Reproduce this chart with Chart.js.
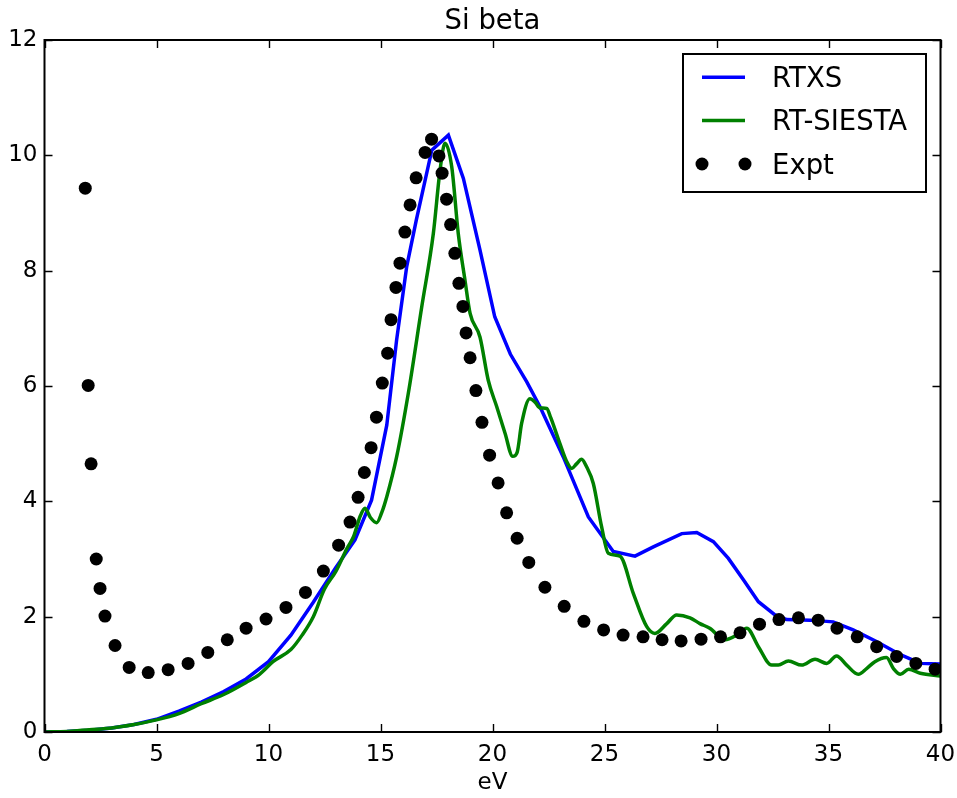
<!DOCTYPE html>
<html>
<head>
<meta charset="utf-8">
<script src="https://cdn.jsdelivr.net/npm/chart.js@4/dist/chart.umd.min.js"></script>
<style>
  html, body { margin: 0; padding: 0; background: #fff; }
  canvas { display: block; }
</style>
</head>
<body>
<canvas id="c" width="957" height="798"></canvas>
<script>
// ---- data ----
const chartTitle = 'Si beta';
const xLabel = 'eV';
const xTicks = [0, 5, 10, 15, 20, 25, 30, 35, 40];
const yTicks = [0, 2, 4, 6, 8, 10, 12];

const rtxsEV = [0, 1, 2, 3, 4, 5, 6, 7, 8, 9, 10, 11, 12, 13, 13.86, 14.6, 15.28, 15.72, 16.17, 16.6, 17.29, 18.03, 18.7, 19.44, 20.1, 20.8, 21.53, 22.12, 23.16, 24.28, 25.39, 26.36, 27.18, 28.45, 29.12, 29.86, 30.53, 31.2, 31.87, 32.61, 33.13, 34.17, 35.21, 36.1, 37.14, 38.21, 39.1, 40];
const rtxsBeta = [0, 0.01, 0.03, 0.07, 0.13, 0.22, 0.36, 0.52, 0.7, 0.92, 1.22, 1.68, 2.25, 2.85, 3.33, 4.02, 5.32, 6.8, 8.07, 8.88, 10.09, 10.35, 9.6, 8.36, 7.2, 6.55, 6.07, 5.64, 4.77, 3.73, 3.13, 3.05, 3.21, 3.44, 3.46, 3.3, 3.01, 2.64, 2.26, 2.03, 1.95, 1.94, 1.91, 1.77, 1.57, 1.34, 1.19, 1.18];

const siestaEV = [0, 1, 2, 3, 4, 5, 6, 7, 8, 9, 9.6, 10.2, 11.0, 11.5, 12.0, 12.5, 13.0, 13.5, 13.8, 14.1, 14.31, 14.55, 14.83, 15.05, 15.28, 15.72, 16.24, 16.84, 17.36, 17.66, 17.88, 18.18, 18.47, 18.77, 19.0, 19.44, 19.81, 20.19, 20.56, 20.9, 21.1, 21.3, 21.67, 21.9, 22.12, 22.42, 22.6, 23.01, 23.3, 23.54, 23.75, 23.98, 24.2, 24.5, 24.87, 25.17, 25.69, 26.29, 26.88, 27.25, 27.78, 28.22, 28.82, 29.26, 29.7, 30.38, 30.9, 31.35, 31.87, 32.46, 32.76, 33.21, 33.8, 34.4, 34.92, 35.36, 35.81, 36.33, 36.7, 37.07, 37.59, 37.9, 38.21, 38.58, 39.1, 40];
const siestaBeta = [0, 0.01, 0.04, 0.07, 0.13, 0.21, 0.32, 0.49, 0.65, 0.86, 1.0, 1.22, 1.43, 1.68, 2.0, 2.48, 2.78, 3.18, 3.39, 3.75, 3.88, 3.72, 3.63, 3.8, 4.08, 4.77, 5.87, 7.37, 8.65, 9.75, 10.21, 9.8, 8.65, 7.84, 7.26, 6.85, 6.1, 5.64, 5.18, 4.78, 4.85, 5.35, 5.78, 5.72, 5.62, 5.61, 5.45, 5.0, 4.7, 4.57, 4.65, 4.73, 4.6, 4.31, 3.56, 3.1, 3.05, 2.4, 1.83, 1.71, 1.88, 2.03, 1.98, 1.88, 1.8, 1.6, 1.68, 1.8, 1.48, 1.16, 1.16, 1.23, 1.16, 1.26, 1.19, 1.32, 1.16, 1.0, 1.1, 1.22, 1.29, 1.1, 1.0, 1.09, 1.02, 0.97];

const exptEV = [1.82, 1.95, 2.08, 2.31, 2.48, 2.7, 3.15, 3.78, 4.63, 5.52, 6.41, 7.29, 8.16, 9.0, 9.89, 10.78, 11.65, 12.45, 13.13, 13.64, 14.0, 14.28, 14.58, 14.82, 15.08, 15.32, 15.47, 15.69, 15.87, 16.09, 16.32, 16.59, 16.99, 17.28, 17.61, 17.75, 17.95, 18.13, 18.32, 18.5, 18.68, 18.82, 19.0, 19.26, 19.53, 19.87, 20.25, 20.63, 21.1, 21.62, 22.34, 23.2, 24.08, 24.96, 25.83, 26.72, 27.57, 28.42, 29.31, 30.18, 31.05, 31.92, 32.79, 33.66, 34.54, 35.38, 36.28, 37.15, 38.04, 38.9, 39.76];
const exptBeta = [9.43, 6.01, 4.65, 3.0, 2.49, 2.01, 1.5, 1.12, 1.03, 1.08, 1.19, 1.38, 1.6, 1.8, 1.96, 2.16, 2.42, 2.79, 3.24, 3.64, 4.07, 4.5, 4.93, 5.46, 6.05, 6.57, 7.15, 7.71, 8.13, 8.67, 9.14, 9.61, 10.05, 10.28, 9.99, 9.69, 9.24, 8.8, 8.3, 7.78, 7.38, 6.92, 6.49, 5.92, 5.37, 4.8, 4.32, 3.8, 3.36, 2.94, 2.51, 2.18, 1.92, 1.77, 1.68, 1.65, 1.6, 1.58, 1.61, 1.65, 1.72, 1.87, 1.95, 1.98, 1.94, 1.8, 1.65, 1.48, 1.31, 1.19, 1.09];

const seriesNames = ['RTXS', 'RT-SIESTA', 'Expt'];
// ---------------------------------------

const toPts = (xs, ys) => xs.map((x, i) => ({ x: x, y: ys[i] }));
const FONT = "'DejaVu Sans', 'Liberation Sans', sans-serif";
const TICK_PX = 23;
const BIG_PX = 27.5;

const framePlugin = {
  id: 'framePlugin',
  afterDatasetsDraw(chart) {
    const ctx = chart.ctx;
    const a = chart.chartArea;
    const xs = chart.scales.x, ys = chart.scales.y;
    ctx.save();
    ctx.strokeStyle = '#000';
    ctx.lineWidth = 1.4;
    const L = 8;
    ctx.beginPath();
    xTicks.forEach(v => {
      const px = Math.round(xs.getPixelForValue(v)) + 0.5;
      ctx.moveTo(px, a.bottom); ctx.lineTo(px, a.bottom - L);
      ctx.moveTo(px, a.top); ctx.lineTo(px, a.top + L);
    });
    yTicks.forEach(v => {
      const py = Math.round(ys.getPixelForValue(v)) + 0.5;
      ctx.moveTo(a.left, py); ctx.lineTo(a.left + L, py);
      ctx.moveTo(a.right, py); ctx.lineTo(a.right - L, py);
    });
    ctx.stroke();
    ctx.lineWidth = 2;
    ctx.strokeRect(a.left, a.top, a.right - a.left, a.bottom - a.top);

    // title
    ctx.fillStyle = '#000';
    ctx.font = BIG_PX + 'px ' + FONT;
    ctx.textAlign = 'center';
    ctx.textBaseline = 'alphabetic';
    ctx.fillText(chartTitle, (a.left + a.right) / 2, 28.5);

    // legend
    const bx = 683, by = 54, bw = 243, bh = 138;
    ctx.fillStyle = '#fff';
    ctx.fillRect(bx, by, bw, bh);
    ctx.lineWidth = 2;
    ctx.strokeStyle = '#000';
    ctx.strokeRect(bx, by, bw, bh);
    const rows = [77.3, 120.5, 164];
    const ds = chart.data.datasets;
    const x1 = 702, x2 = 745, tx = 772;
    ds.forEach((d, i) => {
      const y = rows[i];
      if (d.showLine) {
        ctx.strokeStyle = d.borderColor;
        ctx.lineWidth = d.borderWidth;
        ctx.beginPath();
        ctx.moveTo(x1, y); ctx.lineTo(x2, y);
        ctx.stroke();
      } else {
        ctx.fillStyle = d.backgroundColor;
        [x1, x2].forEach(px => {
          ctx.beginPath();
          ctx.arc(px, y, d.pointRadius, 0, Math.PI * 2);
          ctx.fill();
        });
      }
      ctx.fillStyle = '#000';
      ctx.textAlign = 'left';
      ctx.textBaseline = 'alphabetic';
      ctx.font = BIG_PX + 'px ' + FONT;
      ctx.fillText(d.label, tx, y + 9.8);
    });
    ctx.restore();
  }
};

new Chart(document.getElementById('c'), {
  type: 'scatter',
  data: {
    datasets: [
      {
        label: seriesNames[0],
        data: toPts(rtxsEV, rtxsBeta),
        showLine: true,
        borderColor: '#0000ff',
        backgroundColor: '#0000ff',
        borderWidth: 3.5,
        pointRadius: 0,
        tension: 0,
        order: 3
      },
      {
        label: seriesNames[1],
        data: toPts(siestaEV, siestaBeta),
        showLine: true,
        borderColor: '#008000',
        backgroundColor: '#008000',
        borderWidth: 3.5,
        pointRadius: 0,
        cubicInterpolationMode: 'monotone',
        order: 2
      },
      {
        label: seriesNames[2],
        data: toPts(exptEV, exptBeta),
        showLine: false,
        borderColor: '#000000',
        backgroundColor: '#000000',
        borderWidth: 0,
        pointRadius: 6.5,
        order: 1
      }
    ]
  },
  options: {
    responsive: false,
    animation: false,
    devicePixelRatio: 1,
    layout: { padding: { top: 40, right: 16.5, left: 0, bottom: 0 } },
    plugins: {
      legend: { display: false },
      title: { display: false },
      tooltip: { enabled: false }
    },
    scales: {
      x: {
        type: 'linear',
        min: 0, max: 40,
        afterBuildTicks: s => { s.ticks = xTicks.map(v => ({ value: v })); },
        ticks: { color: '#000', font: { family: FONT, size: TICK_PX }, padding: 9, maxRotation: 0 },
        grid: { display: false, drawTicks: false },
        border: { display: false },
        title: { display: true, text: xLabel, color: '#000', font: { family: FONT, size: TICK_PX }, padding: { top: 0, bottom: 1 } },
        afterFit: s => { s.height = 66; s.paddingLeft = 0; s.paddingRight = 0; }
      },
      y: {
        type: 'linear',
        min: 0, max: 12,
        afterBuildTicks: s => { s.ticks = yTicks.map(v => ({ value: v })); },
        ticks: { color: '#000', font: { family: FONT, size: TICK_PX }, padding: 7 },
        grid: { display: false, drawTicks: false },
        border: { display: false },
        afterFit: s => { s.width = 44.5; s.paddingTop = 0; s.paddingBottom = 0; }
      }
    }
  },
  plugins: [framePlugin]
});
</script>
</body>
</html>
